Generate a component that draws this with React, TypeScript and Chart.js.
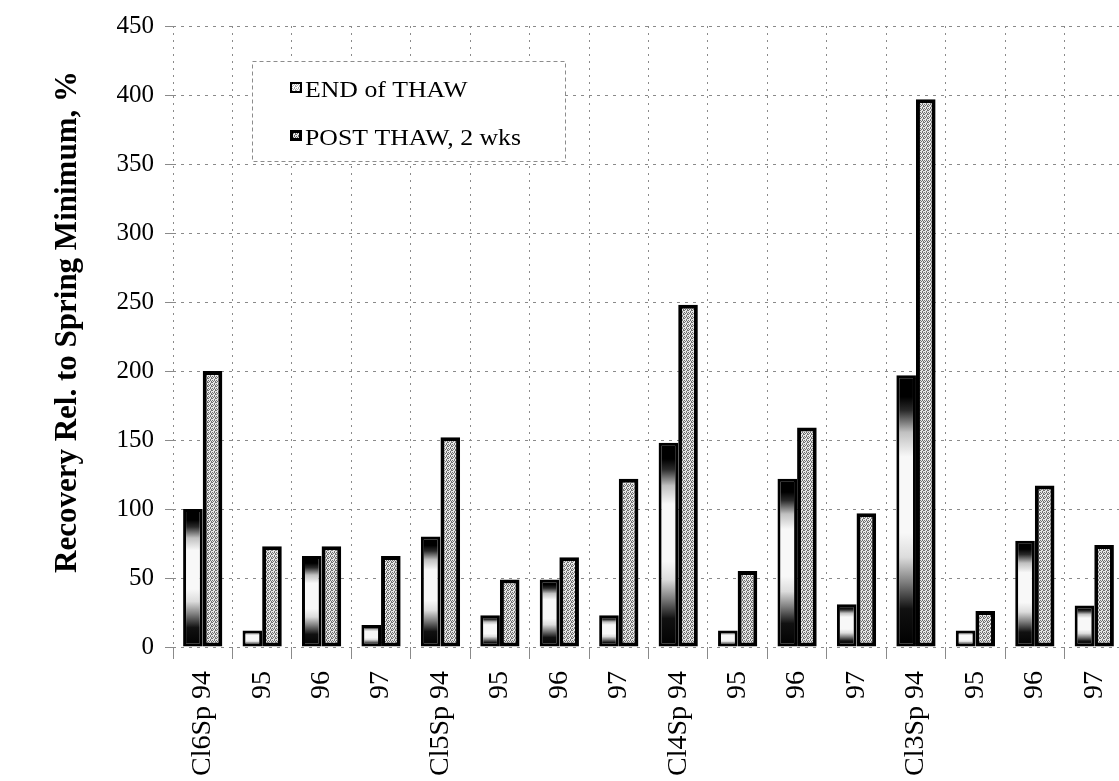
import { useEffect, useRef } from 'react';
import { Chart, registerables } from 'chart.js';

Chart.register(...registerables);

// Site / season labels along the bottom axis
const categories = [
  'Cl6Sp 94', '95', '96', '97',
  'Cl5Sp 94', '95', '96', '97',
  'Cl4Sp 94', '95', '96', '97',
  'Cl3Sp 94', '95', '96', '97',
];

// Recovery relative to spring minimum, %
const endOfThaw = [100, 12, 66, 16, 80, 23, 49, 23, 148, 12, 122, 31, 197, 12, 77, 30];
const postThaw2wks = [200, 73, 73, 66, 152, 49, 65, 122, 248, 55, 159, 97, 397, 26, 117, 74];

const seriesLabels = ['END of THAW', 'POST THAW, 2 wks'];
const yTitle = 'Recovery Rel. to Spring Minimum, %';
const yMin = 0;
const yMax = 450;
const yStep = 50;

const SERIF = "'Liberation Serif', 'Times New Roman', serif";

function makeStipple(light: string, dark: string): HTMLCanvasElement {
  const c = document.createElement('canvas');
  c.width = 4;
  c.height = 4;
  const g = c.getContext('2d')!;
  g.fillStyle = light;
  g.fillRect(0, 0, 4, 4);
  g.fillStyle = dark;
  [[0, 0], [2, 0], [1, 1], [3, 2], [0, 2], [2, 3], [3, 1]].forEach(([x, y]) => g.fillRect(x, y, 1, 1));
  return c;
}

export default function App() {
  const canvasRef = useRef<HTMLCanvasElement | null>(null);

  useEffect(() => {
    const canvas = canvasRef.current;
    if (!canvas) return;
    const c2d = canvas.getContext('2d')!;
    const postPattern = c2d.createPattern(makeStipple('#e8e8e8', '#707070'), 'repeat')!;
    const lightPattern = c2d.createPattern(makeStipple('#ffffff', '#b0b0b0'), 'repeat')!;

    // Vertical shading of the END of THAW bars: dark at both ends, white in the middle
    const endFill = (ctx: any) => {
      const chart = ctx.chart;
      const y = chart.scales && chart.scales.y;
      if (!y || ctx.raw == null) return '#ffffff';
      const base = y.getPixelForValue(0);
      const top = y.getPixelForValue(ctx.raw as number);
      if (!isFinite(base) || !isFinite(top) || base === top) return '#ffffff';
      const g = chart.ctx.createLinearGradient(0, base, 0, top);
      g.addColorStop(0, '#000000');
      g.addColorStop(0.14, '#111111');
      g.addColorStop(0.24, '#808080');
      g.addColorStop(0.33, '#dcdcdc');
      g.addColorStop(0.42, '#f8f8f8');
      g.addColorStop(0.7, '#f8f8f8');
      g.addColorStop(0.79, '#c0c0c0');
      g.addColorStop(0.87, '#2a2a2a');
      g.addColorStop(0.92, '#000000');
      g.addColorStop(1, '#000000');
      return g;
    };

    // Dashed legend box inside the plot area, plus the rotated y-axis title
    const overlay = {
      id: 'overlay',
      afterDraw(chart: any) {
        const { ctx, chartArea } = chart;
        const x = chartArea.left + 79;
        const y = chartArea.top + 35;
        const w = 313;
        const h = 100;
        ctx.save();
        ctx.fillStyle = '#ffffff';
        ctx.fillRect(x, y, w, h);
        ctx.setLineDash([4, 3]);
        ctx.strokeStyle = '#8c8c8c';
        ctx.lineWidth = 1;
        ctx.strokeRect(x + 0.5, y + 0.5, w, h);
        ctx.setLineDash([]);

        const rows = [
          { label: chart.data.datasets[0].label, fill: lightPattern, baseline: y + 36 },
          { label: chart.data.datasets[1].label, fill: postPattern, baseline: y + 84 },
        ];
        rows.forEach((r, i) => {
          const mx = x + 38;
          const my = r.baseline - 15;
          ctx.fillStyle = '#000000';
          ctx.fillRect(mx, my, 12, 11);
          ctx.fillStyle = r.fill;
          const inset = i === 0 ? 2 : 3;
          ctx.fillRect(mx + inset, my + inset, 12 - 2 * inset, 11 - 2 * inset);
          ctx.save();
          ctx.translate(mx + 15, r.baseline);
          ctx.scale(1.12, 1);
          ctx.font = `23px ${SERIF}`;
          ctx.fillStyle = '#000000';
          ctx.textBaseline = 'alphabetic';
          ctx.textAlign = 'left';
          ctx.fillText(r.label, 0, 0);
          ctx.restore();
        });

        // y-axis title
        ctx.save();
        ctx.translate(68, 322);
        ctx.rotate(-Math.PI / 2);
        ctx.font = `bold 31px ${SERIF}`;
        ctx.fillStyle = '#000000';
        ctx.textAlign = 'center';
        ctx.textBaseline = 'middle';
        ctx.fillText(yTitle, 0, 0);
        ctx.restore();

        ctx.restore();
      },
    };

    const chart = new Chart(canvas, {
      type: 'bar',
      data: {
        labels: categories,
        datasets: [
          {
            label: seriesLabels[0],
            data: endOfThaw,
            backgroundColor: endFill,
            borderColor: '#000000',
            borderWidth: 3,
            borderSkipped: false,
            categoryPercentage: 0.66,
            barPercentage: 1.0,
          },
          {
            label: seriesLabels[1],
            data: postThaw2wks,
            backgroundColor: postPattern,
            borderColor: '#000000',
            borderWidth: 4,
            borderSkipped: false,
            categoryPercentage: 0.66,
            barPercentage: 1.0,
          },
        ],
      },
      options: {
        responsive: false,
        animation: false,
        devicePixelRatio: 1,
        layout: { padding: { left: 0, top: 23, right: 26, bottom: 0 } },
        plugins: {
          legend: { display: false },
          tooltip: { enabled: false },
        },
        scales: {
          x: {
            grid: {
              display: true,
              offset: true,
              color: '#8a8a8a',
              lineWidth: 1,
              tickLength: 12,
            },
            border: { display: false, dash: [2, 5] },
            ticks: {
              autoSkip: false,
              maxRotation: 90,
              minRotation: 90,
              padding: 12,
              color: '#000000',
              font: { family: SERIF, size: 28 },
            },
            afterFit: (scale: any) => {
              scale.height = 134;
            },
          },
          y: {
            min: yMin,
            max: yMax,
            grid: {
              color: '#8a8a8a',
              lineWidth: 1,
              tickLength: 8,
            },
            border: { display: false, dash: [3, 5] },
            ticks: {
              stepSize: yStep,
              padding: 11,
              color: '#000000',
              font: { family: SERIF, size: 25 },
            },
            afterFit: (scale: any) => {
              scale.width = 173;
            },
          },
        },
      },
      plugins: [overlay],
    });

    return () => {
      chart.destroy();
    };
  }, []);

  return (
    <div
      style={{
        position: 'absolute',
        left: 0,
        top: 0,
        width: 1119,
        height: 781,
        overflow: 'hidden',
        background: '#ffffff',
      }}
    >
      <canvas ref={canvasRef} width={1150} height={781} style={{ display: 'block' }} />
    </div>
  );
}
